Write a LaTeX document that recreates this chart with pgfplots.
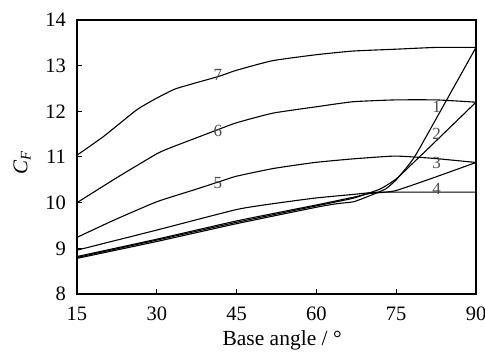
\documentclass[border=0pt]{standalone}
\usepackage{pgfplots}
\pgfplotsset{compat=1.18}
\usepackage{fontspec}
\setmainfont{Liberation Serif}
\begin{document}
\begin{tikzpicture}
\begin{axis}[
  scale only axis, width=399pt, height=274pt,
  xmin=15, xmax=90, ymin=8, ymax=14,
  xtick={15,30,45,60,75,90}, ytick={8,9,...,14},
  tick align=inside, xtick pos=bottom, ytick pos=left,
  major tick length=5pt,
  axis line style={line width=1.3pt},
  tick style={line width=1pt, black},
  /pgf/number format/assume math mode=true,
  tick label style={font=\fontsize{20.5}{24}\selectfont, inner sep=0pt},
  xticklabel style={yshift=-13pt},
  yticklabel style={xshift=-11pt},
  cycle list={{black}},
  every axis plot/.append style={black, solid, line width=1.1pt, mark=none, smooth, tension=0.3},
  clip=false,
]
% curve 7
\addplot coordinates {(15,11.04)(20,11.45)(26.2,12.03)(30,12.29)(33.7,12.5)(41.5,12.76)(45,12.9)(51.8,13.11)(60,13.24)(66.9,13.32)(74.8,13.36)(82.6,13.40)(90,13.40)};
% curve 6
\addplot coordinates {(15,10.0)(22.8,10.57)(30,11.07)(32.5,11.2)(37,11.4)(41.5,11.6)(45,11.75)(51.8,11.96)(60,12.1)(66.9,12.21)(74.8,12.25)(82.6,12.25)(90,12.2)};
% curve 5
\addplot coordinates {(15,9.24)(22,9.62)(30,10.02)(37,10.28)(41.5,10.45)(45,10.58)(52,10.75)(59.7,10.88)(67,10.96)(74.8,11.02)(82,10.97)(90,10.88)};
% curve 4
\addplot coordinates {(15,8.96)(30,9.4)(45,9.85)(52,9.98)(59.7,10.1)(66.9,10.18)(72,10.23)(90,10.23)};
% curve 3
\addplot coordinates {(15,8.82)(30,9.2)(45,9.6)(60,9.95)(67,10.12)(70,10.2)(74.8,10.26)(82.6,10.57)(90,10.88)};
% curve 2
\addplot coordinates {(15,8.8)(30,9.18)(45,9.57)(60,9.93)(67,10.1)(72,10.3)(75,10.52)(78,10.85)(80.7,11.15)(90,12.2)};
% curve 1
\addplot coordinates {(15,8.78)(30,9.15)(45,9.54)(60,9.9)(64,9.98)(67,10.02)(70,10.15)(73,10.3)(75,10.5)(77.5,10.85)(79.2,11.15)(90,13.4)};
\begin{scope}[every node/.style={text=black!70, font=\fontsize{17}{20}\selectfont}]
\node at (axis cs:41.5,12.8) {7};
\node at (axis cs:41.5,11.57) {6};
\node at (axis cs:41.5,10.42) {5};
\node at (axis cs:82.6,12.09) {1};
\node at (axis cs:82.6,11.5) {2};
\node at (axis cs:82.6,10.88) {3};
\node at (axis cs:82.6,10.3) {4};
\end{scope}
\node[rotate=90, font=\fontsize{21}{24}\selectfont] at ([xshift=-55pt]rel axis cs:0,0.478) {\textit{C}\textsubscript{\textit{F}}};
\node[font=\fontsize{21.5}{24}\selectfont] at ([yshift=-46pt]rel axis cs:0.514,0) {Base angle / °};
\end{axis}
\pgfresetboundingbox
\useasboundingbox (-77pt,-58pt) rectangle (408pt,294pt);
\end{tikzpicture}
\end{document}
